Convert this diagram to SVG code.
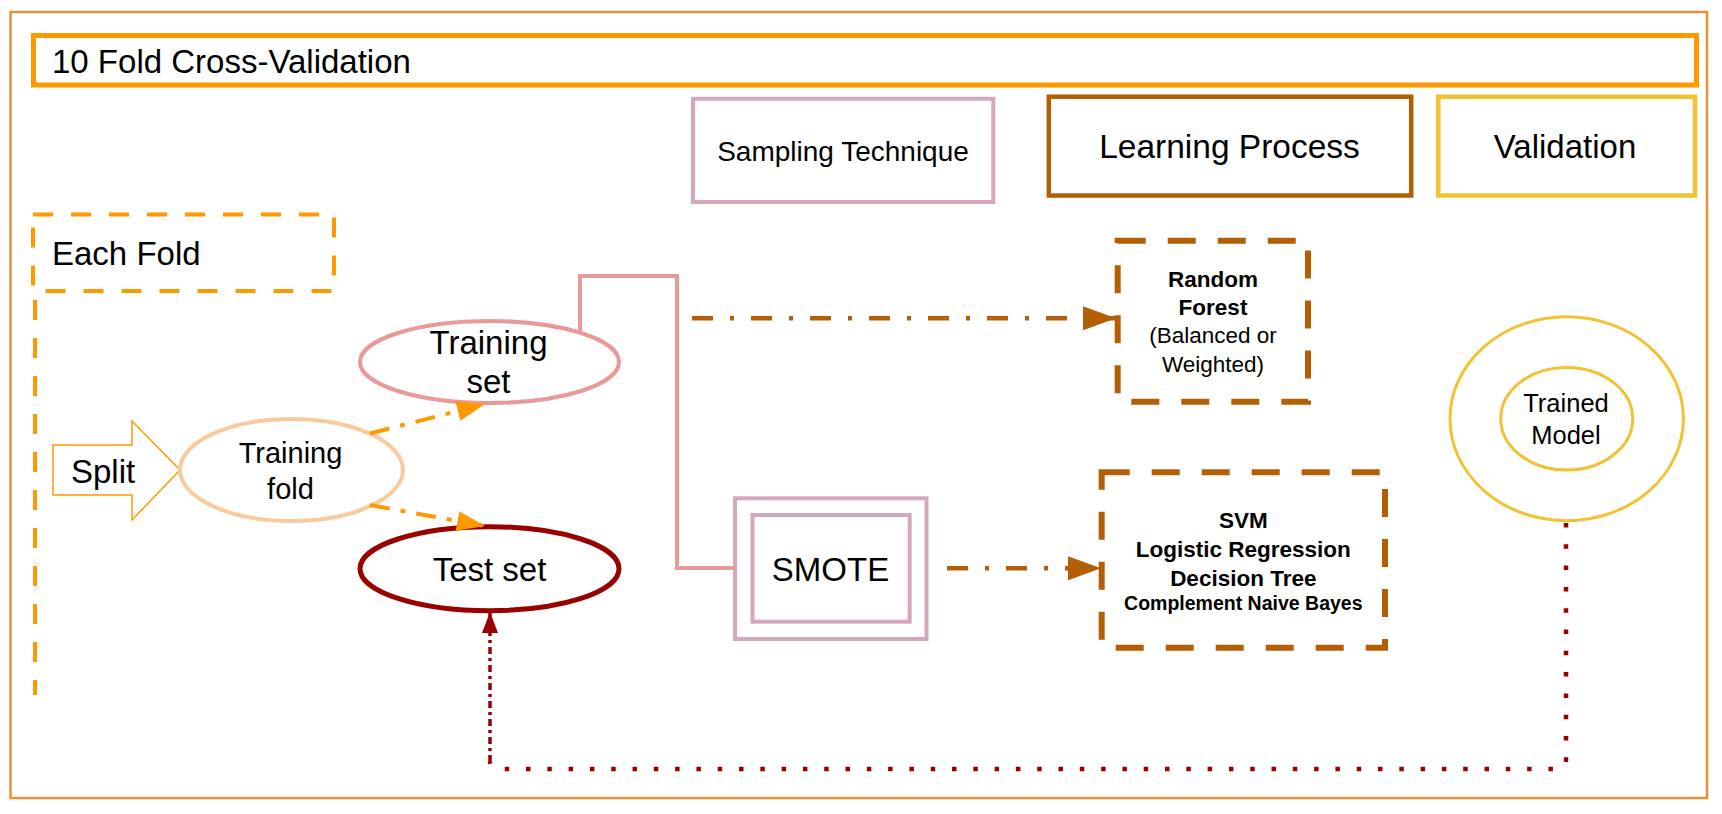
<svg xmlns="http://www.w3.org/2000/svg" width="1722" height="814" viewBox="0 0 1722 814">
<style>
text{font-family:"Liberation Sans",Arial,Helvetica,sans-serif;fill:#000;}
.c{text-anchor:middle;}
.b{font-weight:bold;}
.frame{fill:none;stroke:#E69138;stroke-width:2.5;}
.hdr{fill:#fff;stroke:#FF9900;stroke-width:5;}
.fold{fill:none;stroke:#FF9900;stroke-width:4;stroke-dasharray:20 18;}
.samp{fill:#fff;stroke:#D5A6BD;stroke-width:4;}
.learn{fill:#fff;stroke:#B45F06;stroke-width:4.5;}
.valid{fill:#fff;stroke:#F1C232;stroke-width:4.5;}
.model{fill:none;stroke:#F1C232;stroke-width:3;}
.algo{fill:#fff;stroke:#B45F06;stroke-width:6;stroke-dasharray:28 22;}
.oarr{fill:none;stroke:#FF9900;stroke-width:4;stroke-dasharray:20 11 5 11;}
.barr{fill:none;stroke:#B45F06;stroke-width:4.5;stroke-dasharray:21 17 4 17;}
.pink{fill:none;stroke:#EA9999;stroke-width:4;}
.rdot{fill:none;stroke:#990000;stroke-width:4.5;stroke-dasharray:4.5 16.8;}
.rdd{fill:none;stroke:#990000;stroke-width:3.5;stroke-dasharray:7 4 3 4;}
</style>
<defs>
<marker id="mo" viewBox="0 0 28 20" refX="28" refY="10" markerWidth="28" markerHeight="20" markerUnits="userSpaceOnUse" orient="auto"><path d="M0,0 L28,10 L0,20 z" fill="#FF9900"/></marker>
<marker id="mb" viewBox="0 0 33 24" refX="33" refY="12" markerWidth="33" markerHeight="24" markerUnits="userSpaceOnUse" orient="auto"><path d="M0,0 L33,12 L0,24 z" fill="#B45F06"/></marker>
<marker id="mr" viewBox="0 0 21 16" refX="21" refY="8" markerWidth="21" markerHeight="16" markerUnits="userSpaceOnUse" orient="auto"><path d="M0,0 L21,8 L0,16 z" fill="#990000"/></marker>
</defs>
<rect width="1722" height="814" fill="#fff"/>
<g id="outer-frame"><rect class="frame" x="10.5" y="12" width="1696.5" height="786"/></g>
<g id="header"><rect class="hdr" x="33.5" y="35.5" width="1663" height="49.5"/><text x="52" y="73" font-size="33">10 Fold Cross-Validation</text></g>
<g id="each-fold"><rect class="fold" x="33" y="214.5" width="301" height="76.5"/><line class="fold" x1="35" y1="300" x2="35" y2="695"/><text x="52" y="265" font-size="33">Each Fold</text></g>
<g id="sampling-technique"><rect class="samp" x="693" y="98.8" width="300.3" height="103.2"/><text class="c" x="843" y="160.7" font-size="28">Sampling Technique</text></g>
<g id="learning-process"><rect class="learn" x="1048.8" y="96.7" width="362.4" height="98.8"/><text class="c" x="1229.5" y="158.3" font-size="33.5">Learning Process</text></g>
<g id="validation"><rect class="valid" x="1438.3" y="96.7" width="256.7" height="98.8"/><text class="c" x="1565" y="158.3" font-size="33">Validation</text></g>
<g id="split"><polygon points="53,445 132,445 132,421 180,470 132,520 132,495 53,495" fill="#fff" stroke="#FF9900" stroke-width="1.5"/><text x="71" y="483" font-size="33">Split</text></g>
<g id="training-fold"><ellipse cx="291.5" cy="470" rx="111.5" ry="51" fill="#fff" stroke="#F9CB9C" stroke-width="4"/><text class="c" x="290.5" y="462.7" font-size="29">Training</text><text class="c" x="290.5" y="499.3" font-size="29">fold</text></g>
<g id="training-set"><ellipse cx="489.5" cy="362" rx="129.5" ry="41" fill="#fff" stroke="#EA9999" stroke-width="4"/><text class="c" x="488.5" y="354" font-size="33">Training</text><text class="c" x="488.5" y="392.7" font-size="33">set</text></g>
<g id="test-set"><ellipse cx="489.5" cy="568.7" rx="129.5" ry="42" fill="#fff" stroke="#990000" stroke-width="5"/><text class="c" x="489.5" y="581" font-size="33">Test set</text></g>
<g id="smote"><rect class="samp" x="735" y="498.3" width="191.5" height="140.7"/><rect class="samp" x="752.5" y="515" width="157.2" height="106.7"/><text class="c" x="830.5" y="580.7" font-size="33">SMOTE</text></g>
<g id="random-forest"><rect class="algo" x="1117.7" y="240.7" width="190.3" height="161"/><text class="c b" x="1213" y="286.7" font-size="22.5">Random</text><text class="c b" x="1213" y="315" font-size="22.5">Forest</text><text class="c" x="1213" y="343.3" font-size="22.5">(Balanced or</text><text class="c" x="1213" y="371.7" font-size="22.5">Weighted)</text></g>
<g id="other-models"><rect class="algo" x="1101.7" y="472.3" width="283.3" height="175.4"/><text class="c b" x="1243.3" y="528.3" font-size="22.5">SVM</text><text class="c b" x="1243.3" y="557.3" font-size="22.5">Logistic Regression</text><text class="c b" x="1243.3" y="586" font-size="22.5">Decision Tree</text><text class="c b" x="1243.3" y="609.5" font-size="19.5">Complement Naive Bayes</text></g>
<g id="trained-model"><ellipse class="model" cx="1566.7" cy="418.7" rx="116.7" ry="102"/><ellipse class="model" cx="1566.7" cy="418.7" rx="66" ry="51.3"/><text class="c" x="1566" y="411.7" font-size="25.5">Trained</text><text class="c" x="1566" y="444.3" font-size="25.5">Model</text></g>
<g id="connectors">
<line class="oarr" x1="370" y1="433.5" x2="485" y2="404" marker-end="url(#mo)"/>
<line class="oarr" x1="370" y1="505" x2="485" y2="526" marker-end="url(#mo)"/>
<path class="pink" d="M580,333 V276 H677 V568 H735"/>
<line class="barr" x1="692" y1="318.3" x2="1116" y2="318.3" marker-end="url(#mb)"/>
<line class="barr" x1="947" y1="568.3" x2="1101" y2="568.3" marker-end="url(#mb)"/>
<path class="rdot" d="M1566,523 V760 Q1566,769 1557,769 H500 Q490,769 490,762"/>
<path class="rdd" d="M490,762 V612" marker-end="url(#mr)"/>
</g>
</svg>
